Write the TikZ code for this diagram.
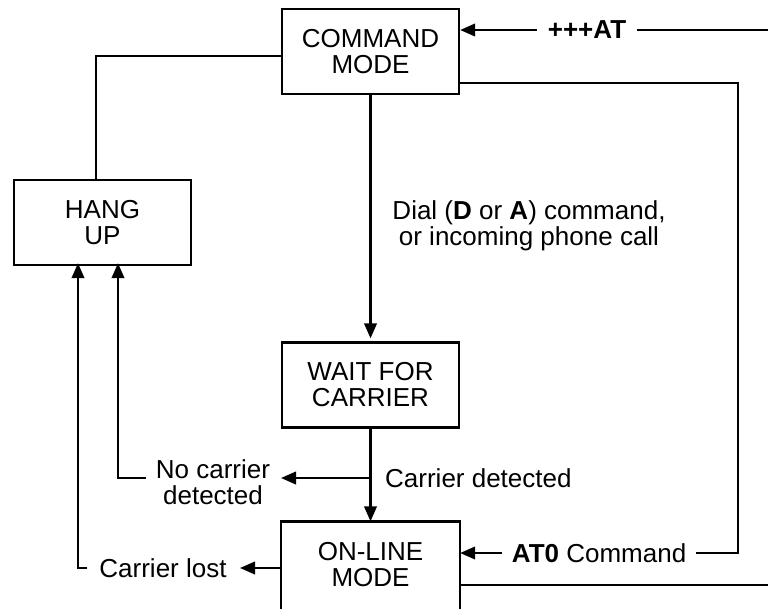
\documentclass[tikz,border=0pt]{standalone}
\usepackage{fontspec}
\setmainfont{Liberation Sans}
\usetikzlibrary{arrows.meta,calc}
\begin{document}
\begin{tikzpicture}[x=1pt,y=-1pt,
  stbox/.style={draw, line width=2.3pt, minimum width=177pt, minimum height=85pt, inner sep=0pt, align=center, font=\fontsize{26}{26}\selectfont},
  lbl/.style={inner sep=0pt, align=center, font=\fontsize{26}{26}\selectfont},
  wire/.style={line width=2.3pt},
  arr/.style={wire, -{Triangle[length=15pt,width=12.5pt]}},
]
\useasboundingbox (0,0) rectangle (768,608);
% states
\node[stbox] (cmd) at (370.5,51.5) {COMMAND\\MODE};
\node[stbox] (hang) at (102.5,222.5) {HANG\\UP};
\node[stbox] (wait) at (370.5,385) {WAIT FOR\\CARRIER};
\node[stbox, draw=none] (online) at (370.5,565) {ON-LINE\\MODE};
\draw[wire] (online.north west) rectangle ($(online.south east)+(0,15)$);
% helper coordinates
\coordinate (rtop) at (768,30);
\coordinate (y83) at (0,83);
\coordinate (y56) at (0,56);
\coordinate (hl) at (96,0);
\coordinate (rc) at (738,553);
\coordinate (y478) at (0,478);
\coordinate (nctip) at (281,478);
\coordinate (ncstart) at (146,478);
\coordinate (hx2) at (118,0);
\coordinate (y568) at (0,568);
\coordinate (cltip) at (240,568);
\coordinate (clstart) at (87,568);
\coordinate (hx1) at (78,0);
\coordinate (rbot) at (768,585);
% +++AT
\draw[arr] (rtop) -- node[lbl, pos=0.588, fill=white, inner xsep=11pt] {\textbf{+++AT}} (cmd.east |- rtop);
% command -> online (AT0)
\draw[arr] (cmd.east |- y83) -| (rc) -- node[lbl, pos=0.5, fill=white, inner xsep=10pt] {\textbf{AT0} Command} (online.east |- rc);
% command -- hang up
\draw[wire] (cmd.west |- y56) -| (hang.north -| hl);
% dial
\draw[arr, shorten >=3pt] (cmd.south) -- (wait.north);
\node[lbl] (dial) at (529,226) {Dial (\textbf{D} or \textbf{A}) command,\\or incoming phone call};
% wait -> online
\draw[arr] (wait.south) -- (online.north);
\node[lbl, anchor=west] (cardet) at (385,478) {Carrier detected};
% no carrier
\draw[arr] (wait.south |- y478) -- (nctip);
\node[lbl] (nocar) at (213,482) {No carrier\\detected};
\draw[arr, shorten >=-3pt] (ncstart) -| (hang.south -| hx2);
% carrier lost
\draw[arr] (online.west |- y568) -- (cltip);
\node[lbl] (carlost) at (163,568) {Carrier lost};
\draw[arr, shorten >=-3pt] (clstart) -| (hang.south -| hx1);
% online right line
\draw[wire] (online.east |- rbot) -- (rbot);
\end{tikzpicture}
\end{document}
